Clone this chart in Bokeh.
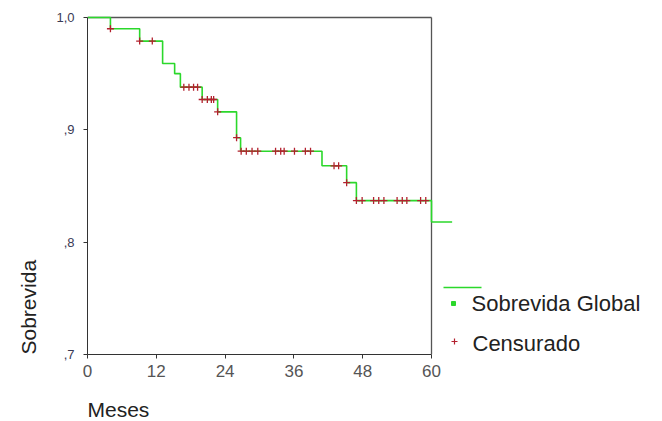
import numpy as np
from bokeh.plotting import figure
from bokeh.models import FixedTicker, Label, Range1d, Title
from bokeh.embed import file_html
from bokeh.resources import INLINE

# ---- data ----
step_times = [0.0, 4.0, 9.1, 13.1, 15.2, 16.2, 20.0, 22.7, 26.0, 26.7, 40.9, 45.2, 46.9, 60.0]
step_surv = [1.0, 0.990, 0.979, 0.959, 0.950, 0.938, 0.927, 0.916, 0.893, 0.881, 0.868, 0.853, 0.837, 0.818]
last_time = 63.6
censor_times = [4.0, 9.1, 11.3,
                16.8, 17.7, 18.5, 19.2,
                20.0, 20.9, 21.6, 22.0,
                22.7, 26.0,
                26.8, 27.7, 28.7, 29.7, 32.8, 33.7, 34.3, 36.1, 38.0, 38.9,
                43.0, 43.8, 45.2,
                46.9, 47.9, 49.9, 50.8, 51.7, 54.0, 54.9, 55.7, 58.1, 59.0]
x_ticks = [0, 12, 24, 36, 48, 60]
y_ticks = [0.7, 0.8, 0.9, 1.0]
y_tick_labels = [",7", ",8", ",9", "1,0"]
x_label = "Meses"
y_label = "Sobrevida"
legend_labels = ["Sobrevida Global", "Censurado"]

X_MIN, X_MAX = 0, 60
Y_MIN, Y_MAX = 0.7, 1.0

# ---- layout (pixels) ----
W, H = 662, 421
LEFT, BOTTOM_PX, TOP_PX = 87, 354, 17   # x=0 at px 87, y=0.7 at px 354, y=1.0 at px 17
PX_PER_X = (431 - 87) / 60.0
PX_PER_Y = (BOTTOM_PX - TOP_PX) / (Y_MAX - Y_MIN)

def dx(px):
    return (px - LEFT) / PX_PER_X

def dy(py):
    return Y_MAX - (py - TOP_PX) / PX_PER_Y

GREEN = "#2bd82b"
RED = "#b3202e"
DARK = "#333333"
FONT = "Liberation Sans"

p = figure(width=W, height=H, output_backend="svg", toolbar_location=None,
           x_range=Range1d(dx(LEFT), dx(W)), y_range=Range1d(Y_MIN, dy(0)),
           min_border_left=LEFT, min_border_right=0, min_border_top=0,
           min_border_bottom=H - BOTTOM_PX)
p.outline_line_color = None
p.grid.visible = False
p.background_fill_color = "white"
p.border_fill_color = "white"

# frame (top and right)
p.segment(x0=[X_MIN, X_MAX], y0=[Y_MAX, Y_MIN], x1=[X_MAX, X_MAX], y1=[Y_MAX, Y_MAX],
          line_color="#555555", line_width=1.3)

# survival step curve
xs = list(step_times) + [last_time]
ys = list(step_surv) + [step_surv[-1]]
p.step(xs, ys, mode="after", line_color=GREEN, line_width=1.6)

# censored marks
st = np.array(step_times)
idx = np.searchsorted(st, np.array(censor_times), side="right") - 1
cy = np.array(step_surv)[idx]
p.scatter(censor_times, cy, marker="cross", size=7, line_color=RED, line_width=1.3)

# axes
xa = p.xaxis[0]
xa.ticker = FixedTicker(ticks=x_ticks)
xa.bounds = (X_MIN, X_MAX)
xa.minor_tick_line_color = None
xa.major_tick_out = 4
xa.major_tick_in = 0
xa.axis_line_color = DARK
xa.major_tick_line_color = DARK
xa.major_label_text_font = FONT
xa.major_label_text_font_size = "17px"
xa.major_label_text_color = "#555555"
xa.major_label_standoff = 6
# blank spacer label to push the "Meses" title down
xa.axis_label = "\u00a0"
xa.axis_label_standoff = 0
xa.axis_label_text_font_size = "11px"

ya = p.yaxis[0]
ya.ticker = FixedTicker(ticks=y_ticks)
ya.bounds = (Y_MIN, Y_MAX)
ya.minor_tick_line_color = None
ya.major_tick_out = 4
ya.major_tick_in = 0
ya.axis_line_color = DARK
ya.major_tick_line_color = DARK
ya.major_label_overrides = {t: l for t, l in zip(y_ticks, y_tick_labels)}
ya.major_label_text_font = FONT
ya.major_label_text_font_size = "13px"
ya.major_label_text_color = "#3a3a55"
ya.major_label_standoff = 9

# axis titles (as side-panel titles so they are not clipped by the frame)
p.add_layout(Title(text=x_label, align="left", text_font=FONT, text_font_size="21px",
                   text_font_style="normal", text_color="#222222", standoff=2), "below")
p.add_layout(Title(text=y_label, align="left", text_font=FONT, text_font_size="21px",
                   text_font_style="normal", text_color="#222222", standoff=28), "left")

# legend
p.segment(x0=[dx(443)], y0=[dy(287)], x1=[dx(481)], y1=[dy(287)], line_color=GREEN, line_width=1.5)
p.scatter([dx(453)], [dy(303)], marker="square", size=4, fill_color=GREEN, line_color=GREEN, line_width=1)
p.scatter([dx(454)], [dy(341)], marker="cross", size=6, line_color=RED, line_width=1.2)
p.add_layout(Label(x=dx(471), y=dy(303), text=legend_labels[0], text_align="left", text_baseline="middle",
                   text_font=FONT, text_font_size="22px", text_color="#222222"))
p.add_layout(Label(x=dx(472), y=dy(343), text=legend_labels[1], text_align="left", text_baseline="middle",
                   text_font=FONT, text_font_size="22px", text_color="#222222"))

open("out.html", "w").write(file_html(p, INLINE))
